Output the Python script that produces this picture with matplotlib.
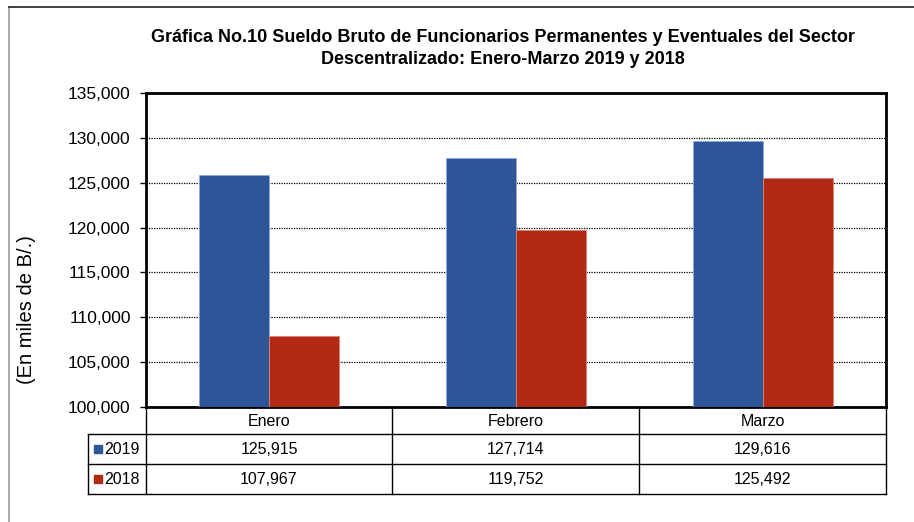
import numpy as np
import matplotlib
matplotlib.use('Agg')
import matplotlib.pyplot as plt
from matplotlib.lines import Line2D
from matplotlib.patches import Rectangle
from matplotlib.ticker import FuncFormatter

plt.rcParams['font.family'] = ['Liberation Sans', 'DejaVu Sans']

meses = ['Enero', 'Febrero', 'Marzo']
series = ['2019', '2018']
valores_2019 = [125915, 127714, 129616]
valores_2018 = [107967, 119752, 125492]
colores = ['#2E5597', '#B02A15']

W, H = 914, 522
fig = plt.figure(figsize=(W / 100, H / 100), dpi=100)


def fx(px):
    return px / W


def fy(py):
    return 1 - py / H


ax = fig.add_axes([fx(146), fy(407), fx(886) - fx(146), fy(93) - fy(407)])

x = np.arange(len(meses))
bw = 0.284
ax.bar(x - bw / 2, valores_2019, bw, color=colores[0], edgecolor='#8FA8D8', linewidth=0.6, zorder=3)
ax.bar(x + bw / 2, valores_2018, bw, color=colores[1], edgecolor='#E08070', linewidth=0.6, zorder=3)

ax.set_xlim(-0.5, 2.5)
ax.set_ylim(100000, 135000)
ax.set_yticks(np.arange(100000, 135001, 5000))
ax.yaxis.set_major_formatter(FuncFormatter(lambda v, p: f'{int(v):,}'))
ax.tick_params(axis='y', labelsize=12.5, length=4, width=1, direction='out', pad=7)
ax.set_xticks([])
ax.grid(axis='y', color='black', linestyle=(0, (1, 1)), linewidth=0.9, zorder=0)
for s in ax.spines.values():
    s.set_linewidth(2)
    s.set_color('black')

# titulo
fig.text(fx(503), fy(38), 'Gráfica No.10 Sueldo Bruto de Funcionarios Permanentes y Eventuales del Sector',
         ha='center', va='center', fontsize=13, fontweight='bold')
fig.text(fx(503), fy(60), 'Descentralizado: Enero-Marzo 2019 y 2018',
         ha='center', va='center', fontsize=13, fontweight='bold')

fig.text(fx(27), fy(310), '(En miles de B/.)', rotation=90, ha='center', va='center', fontsize=14.5)

# tabla de datos
cols = [146, 392, 639, 886]
filas = [407, 434, 464, 494]


def hline(y, x0, x1, lw=1.0):
    fig.add_artist(Line2D([fx(x0), fx(x1)], [fy(y), fy(y)], color='black', linewidth=lw))


def vline(x0, y0, y1, lw=1.0):
    fig.add_artist(Line2D([fx(x0), fx(x0)], [fy(y0), fy(y1)], color='black', linewidth=lw))


for y in filas[1:]:
    hline(y, 88, 886)
for c in cols:
    vline(c, 407, 494)
vline(88, 434, 494)

for i, m in enumerate(meses):
    cx = (cols[i] + cols[i + 1]) / 2
    fig.text(fx(cx), fy(421), m, ha='center', va='center', fontsize=11.5)
    fig.text(fx(cx), fy(449), f'{valores_2019[i]:,}', ha='center', va='center', fontsize=11.5)
    fig.text(fx(cx), fy(479), f'{valores_2018[i]:,}', ha='center', va='center', fontsize=11.5)

for j, (s, c) in enumerate(zip(series, colores)):
    yc = (filas[j + 1] + filas[j + 2]) / 2
    fig.add_artist(Rectangle((fx(94), fy(yc + 4)), fx(8), fy(0) - fy(8), color=c,
                             transform=fig.transFigure))
    fig.text(fx(104), fy(yc), s, ha='left', va='center', fontsize=11.5)

# marco
fig.add_artist(Line2D([fx(9), fx(9)], [fy(7), fy(522)], color='#AAAAAA', linewidth=1.5))
fig.add_artist(Line2D([fx(9), fx(914)], [fy(7), fy(7)], color='#222222', linewidth=1.2))

fig.savefig('out.png', dpi=100)
